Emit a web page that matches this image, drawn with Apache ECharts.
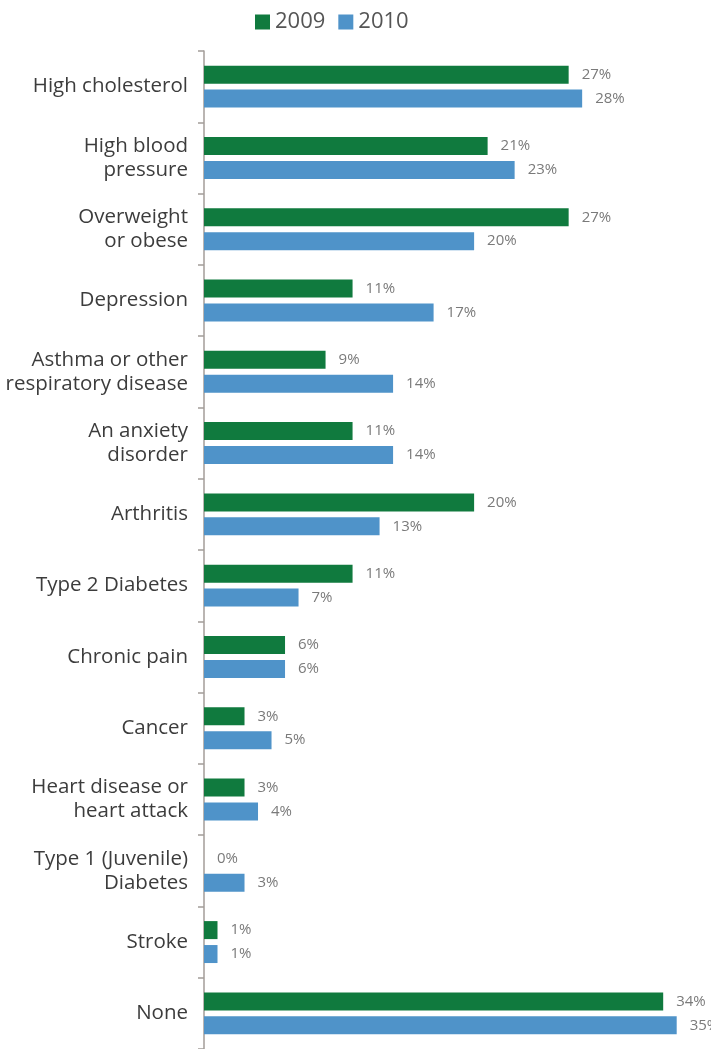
<!DOCTYPE html>
<html>
<head>
<meta charset="utf-8">
<style>
  html, body { margin: 0; padding: 0; background: #ffffff; }
  #chart { width: 711px; height: 1049px; }
</style>
<script src="https://cdn.jsdelivr.net/npm/echarts@6/dist/echarts.min.js"></script>
</head>
<body>
<div id="chart"></div>
<script>
// Health conditions reported, share of respondents by year
const categories = [
  'High cholesterol',
  'High blood\npressure',
  'Overweight\nor obese',
  'Depression',
  'Asthma or other\nrespiratory disease',
  'An anxiety\ndisorder',
  'Arthritis',
  'Type 2 Diabetes',
  'Chronic pain',
  'Cancer',
  'Heart disease or\nheart attack',
  'Type 1 (Juvenile)\nDiabetes',
  'Stroke',
  'None'
];
const seriesNames = ['2009', '2010'];
const values2009 = [27, 21, 27, 11, 9, 11, 20, 11, 6, 3, 3, 0, 1, 34];
const values2010 = [28, 23, 20, 17, 14, 14, 13, 7, 6, 5, 4, 3, 1, 35];

const FONT = '"Open Sans", "Noto Sans", sans-serif';
const GREEN = '#107a3e';
const BLUE = '#4f93c9';

const chart = echarts.init(document.getElementById('chart'), null, { renderer: 'canvas' });

function barSeries(name, data, color) {
  return {
    name: name,
    type: 'bar',
    data: data,
    barWidth: 18,
    barGap: '33%',
    itemStyle: { color: color },
    label: {
      show: true,
      position: 'right',
      distance: 13,
      formatter: '{c}%',
      color: '#7a7a7a',
      fontFamily: FONT,
      fontSize: 15
    },
    animation: false
  };
}

chart.setOption({
  animation: false,
  legend: {
    data: seriesNames,
    top: 11,
    left: 255,
    itemWidth: 15,
    itemHeight: 15,
    itemGap: 13,
    icon: 'rect',
    padding: 0,
    textStyle: { color: '#555555', fontFamily: FONT, fontSize: 22 }
  },
  grid: { left: 204, right: 34.3, top: 51, bottom: -1, containLabel: false },
  xAxis: {
    type: 'value',
    min: 0,
    max: 35,
    show: false
  },
  yAxis: {
    type: 'category',
    data: categories,
    inverse: true,
    axisLine: { show: true, lineStyle: { color: '#a39d99', width: 1.5 } },
    axisTick: { show: true, length: 6, lineStyle: { color: '#a39d99', width: 1.5 } },
    axisLabel: {
      margin: 16,
      color: '#3c3c3c',
      fontFamily: FONT,
      fontSize: 20.5,
      lineHeight: 24,
      align: 'right',
      padding: [8, 0, 0, 0]
    },
    splitLine: { show: false }
  },
  series: [
    barSeries(seriesNames[0], values2009, GREEN),
    barSeries(seriesNames[1], values2010, BLUE)
  ]
});
</script>
</body>
</html>
